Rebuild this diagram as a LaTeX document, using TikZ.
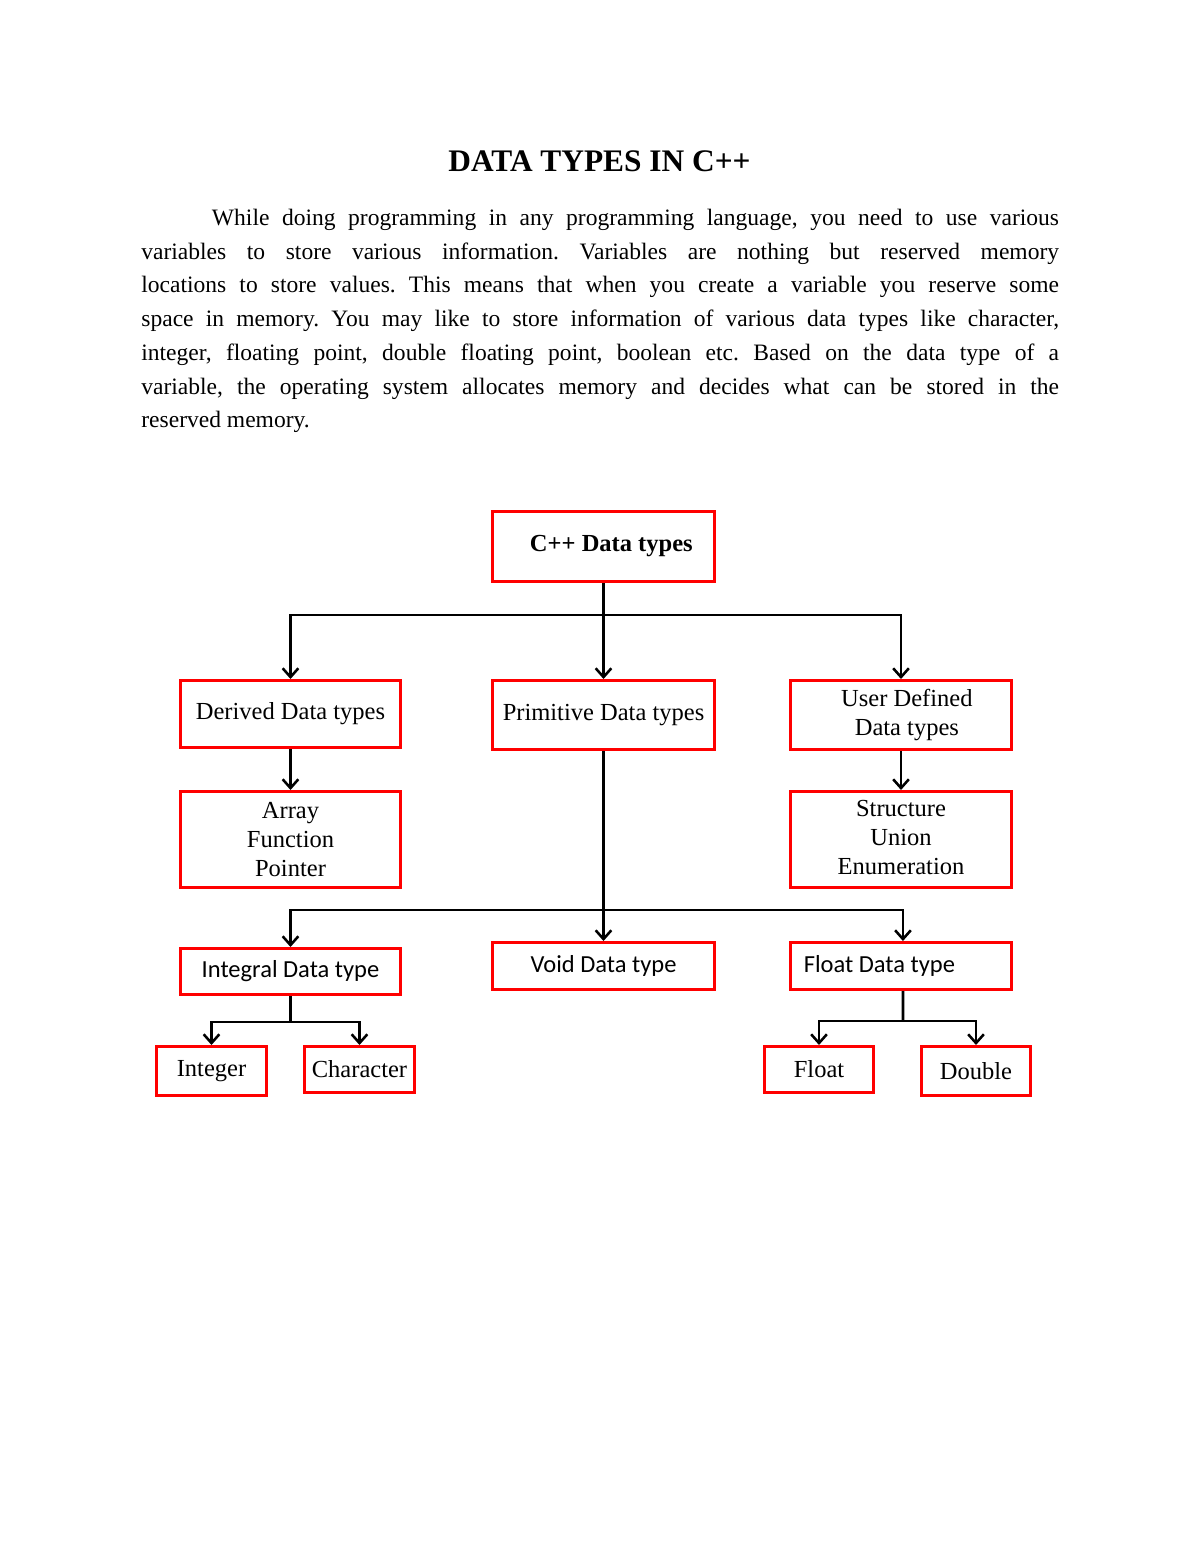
\documentclass[tikz,border=0pt]{standalone}
\usepackage{fontspec}
\setmainfont{Liberation Serif}
\newfontfamily\calib{Carlito}
\usetikzlibrary{arrows.meta}
\frenchspacing
\tikzset{
  box/.style 2 args={draw=red, line width=1.5pt, minimum width=#1*0.51pt-1.5pt,
    minimum height=#2*0.51pt-1.5pt, inner sep=0pt, align=center,
    font=\fontsize{12.5}{14.8}\selectfont},
  sbox/.style 2 args={box={#1}{#2}, font=\calib\fontsize{12.5}{14.8}\selectfont},
  conn/.style={line width=1.5pt, black},
  arr/.style={conn, -{Straight Barb[length=4.5pt,width=8pt,line width=1.3pt]}},
  bodyline/.style={anchor=base west, inner sep=0pt, font=\fontsize{12}{17.2}\selectfont},
}
\begin{document}
\begin{tikzpicture}[x=0.51pt, y=-0.51pt]
\useasboundingbox[fill=white] (0,0) rectangle (1200,1553);
% title and paragraph
\node[anchor=base, inner sep=0pt, font=\bfseries\fontsize{16}{19}\selectfont] (title) at (599.5,172) {DATA TYPES IN C++};
\node[bodyline] (l1) at (141,225) {\hbox to 468pt{\hspace*{36pt}While doing programming in any programming language, you need to use various}};
\node[bodyline] (l2) at (141,259) {\hbox to 468pt{variables to store various information. Variables are nothing but reserved memory}};
\node[bodyline] (l3) at (141,292.5) {\hbox to 468pt{locations to store values. This means that when you create a variable you reserve some}};
\node[bodyline] (l4) at (141,326) {\hbox to 468pt{space in memory. You may like to store information of various data types like character,}};
\node[bodyline] (l5) at (141,360) {\hbox to 468pt{integer, floating point, double floating point, boolean etc. Based on the data type of a}};
\node[bodyline] (l6) at (141,394) {\hbox to 468pt{variable, the operating system allocates memory and decides what can be stored in the}};
\node[bodyline] (l7) at (141,427.5) {reserved memory.};
% boxes
\node[box={225}{73}, font=\bfseries\fontsize{12.5}{14.8}\selectfont] (top) at (603.5,546.5) {\raisebox{-2pt}{\hspace*{8pt}C++ Data types}};
\node[box={223}{70}] (der) at (290.5,714) {\raisebox{-1.5pt}{Derived Data types}};
\node[box={225}{72}] (prim) at (603.5,715) {\raisebox{-1pt}{Primitive Data types}};
\node[box={224}{72}] (user) at (901,715) {\hspace*{6pt}User Defined\\\hspace*{6pt}Data types};
\node[box={223}{99}] (arr) at (290.5,839.5) {Array\\Function\\Pointer};
\node[box={224}{99}] (str) at (901,839.5) {\raisebox{-2pt}{\begin{tabular}{@{}c@{}}Structure\\Union\\Enumeration\end{tabular}}};
\node[sbox={223}{49}] (integ) at (290.5,971.5) {Integral Data type};
\node[sbox={225}{50}] (void) at (603.5,966) {Void Data type};
\node[sbox={224}{50}] (flt) at (901,966) {Float Data type\hspace*{22pt}};
\node[box={113}{52}] (int) at (211.5,1071) {Integer};
\node[box={113}{49}] (chr) at (359.5,1069.5) {Character};
\node[box={112}{49}] (fl) at (819,1069.5) {Float};
\node[box={112}{52}] (dbl) at (976,1071) {Double};
% junctions
\coordinate (j1) at (603.5,615);
\coordinate (j2) at (603.5,910);
\coordinate (j3) at (290.5,1022);
\coordinate (j4) at (903,1021);
% connectors
\draw[arr] (top.south) -- (prim.north);
\draw[arr] (j1) -| (der.north);
\draw[arr] (j1) -| (user.north);
\draw[arr] (der.south) -- (arr.north);
\draw[arr] (user.south) -- (str.north);
\draw[arr] (prim.south) -- (void.north);
\draw[arr] (j2) -| (integ.north);
\draw[arr] (j2) -| ([xshift=1pt]flt.north);
\draw[conn] (integ.south) -- (j3);
\draw[arr] (j3) -| (int.north);
\draw[arr] (j3) -| (chr.north);
\draw[conn] ([xshift=1pt]flt.south) -- (j4);
\draw[arr] (j4) -| (fl.north);
\draw[arr] (j4) -| (dbl.north);
\end{tikzpicture}
\end{document}
